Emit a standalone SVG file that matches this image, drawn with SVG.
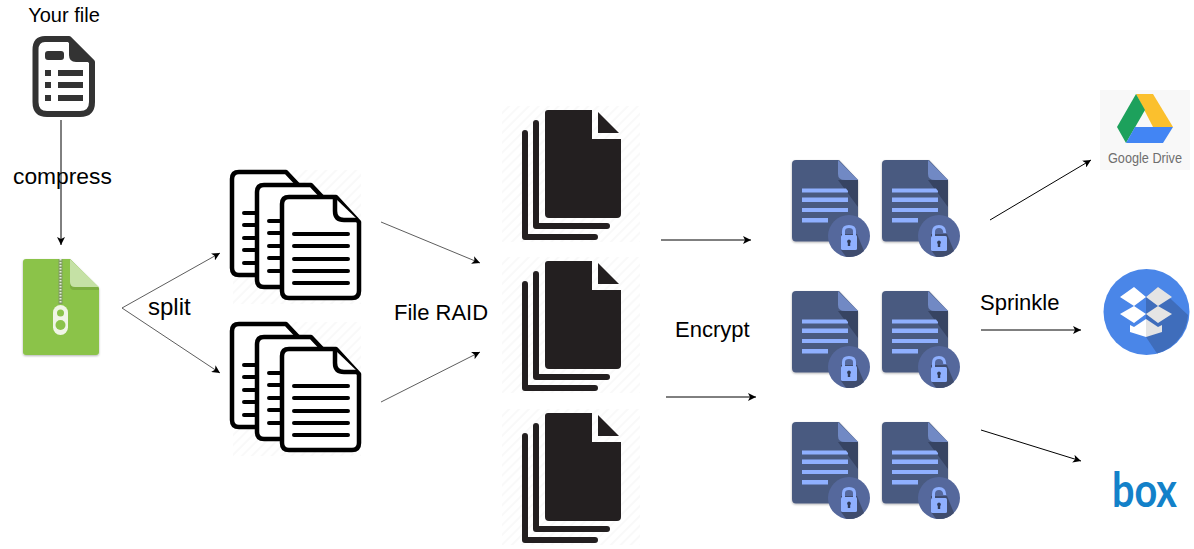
<svg xmlns="http://www.w3.org/2000/svg" width="1194" height="549" viewBox="0 0 1194 549">
<style>
text{font-family:"Liberation Sans",Arial,sans-serif;fill:#000}
.lbl{font-size:22px}
.c{stroke:#000;stroke-width:1;fill:none}
.c2{stroke:#333;stroke-width:.8;fill:none}
.ol{fill:#fff;stroke:#000;stroke-width:4.500;stroke-linejoin:round}
.ln{stroke:#000;stroke-width:4;stroke-linecap:round;fill:none}
.bk{stroke:#231f20;stroke-width:6;stroke-linecap:round;stroke-linejoin:round;fill:none}
</style>
<defs>
<marker id="a" markerWidth="10" markerHeight="8" refX="8" refY="4" orient="auto" markerUnits="userSpaceOnUse"><path d="M0 0L8 4L0 8L2 4Z" fill="#000"/></marker>
<pattern id="h" width="7" height="7" patternUnits="userSpaceOnUse" patternTransform="rotate(45)"><rect width="7" height="7" fill="#fff"/><rect width="2" height="7" fill="#f9f9f9"/></pattern>
<filter id="s" x="-10%" y="-10%" width="120%" height="120%"><feDropShadow dx="0" dy="1" stdDeviation="1" flood-color="#000" flood-opacity=".3"/></filter>
<g id="outline">
<rect x="233" y="170" width="128" height="134" fill="url(#h)"/>
<path class="ol" d="M239 172H286L303 190V275H239Q232 275 232 268V179Q232 172 239 172Z"/>
<path class="ln" d="M244 213H262M244 225H262M244 238H262M244 250H262M244 263H262"/>
<path class="ol" d="M264 185H311L328 203V287H264Q257 287 257 280V192Q257 185 264 185Z"/>
<path class="ln" d="M269 221H285M269 233H285M269 246H285M269 258H285M269 271H285"/>
<path class="ol" d="M289 197H336L359 222V291Q359 298 352 298H289Q282 298 282 291V204Q282 197 289 197Z"/>
<path class="ol" d="M335 198V211Q335 220 344 220H358" fill="none"/>
<path class="ln" d="M294 234H348M294 246H348M294 259H348M294 271H348M294 283H348"/>
</g>
<g id="stack">
<rect x="502" y="106" width="138" height="136" fill="url(#h)"/>
<path d="M548 110H592V139H621V214Q621 218 617 218H549Q545 218 545 214V113Q545 110 548 110Z" fill="#231f20"/>
<path d="M598 112L619 133H598Z" fill="#231f20"/>
<path class="bk" d="M536 123V226H607"/>
<path class="bk" d="M525 133V237H595"/>
</g>
<g id="lockdoc">
<path d="M796 160H839L858 180V238Q858 241.500 854 241.500H796Q792 241.500 792 237V164Q792 160 796 160Z" fill="#4a5a80" filter="url(#s)"/>
<path d="M838 160L858 180H845Q838 180 838 174Z" fill="#7189c4"/>
<path d="M838 180H858V207Z" fill="#374462"/>
<path d="M802 188.500H846L848 191V192.500H802ZM802 197.500H848V202H802ZM802 208H848V212H802ZM802 218H828V222.500H802Z" fill="#8fb0ff"/>
<circle cx="849" cy="236" r="21" fill="#55689c"/>
<path d="M841 234H857L864 251A21 21 0 0 1 846 256.800L841 250Z" fill="#3f4c6e"/>
</g>
<g id="closed">
<use href="#lockdoc"/>
<path d="M843.500 236V231Q843.500 226.500 849 226.500Q854.500 226.500 854.500 231V236" fill="none" stroke="#8fb0ff" stroke-width="3"/>
<rect x="841" y="235" width="16" height="15" rx="1.500" fill="#8fb0ff"/>
<path d="M849 239.500a2 2 0 0 1 1.200 3.500V246H847.800V243A2 2 0 0 1 849 239.500Z" fill="#2f3a58"/>
</g>
<g id="open">
<use href="#lockdoc"/>
<path d="M843.500 236V232Q843.500 226.500 849 226.500Q854.500 226.500 854.800 233" fill="none" stroke="#8fb0ff" stroke-width="3"/>
<rect x="841" y="236" width="16" height="15" rx="1.500" fill="#8fb0ff"/>
<path d="M849 240.500a2 2 0 0 1 1.200 3.500V247H847.800V244A2 2 0 0 1 849 240.500Z" fill="#2f3a58"/>
</g>
</defs>
<rect width="1194" height="549" fill="#fff"/>

<g id="connectors">
<path class="c" d="M61 120V245" marker-end="url(#a)"/>
<path class="c2" d="M122 308L220 253" marker-end="url(#a)"/>
<path class="c2" d="M122 308L220 373" marker-end="url(#a)"/>
<path class="c2" d="M381 222L480 263" marker-end="url(#a)"/>
<path class="c2" d="M381 402L480 352" marker-end="url(#a)"/>
<path class="c" d="M661 240H751" marker-end="url(#a)"/>
<path class="c" d="M666 397H756" marker-end="url(#a)"/>
<path class="c" d="M990 220L1091 160" marker-end="url(#a)"/>
<path class="c" d="M981 330H1081" marker-end="url(#a)"/>
<path class="c" d="M981 430L1081 461" marker-end="url(#a)"/>
</g>

<g id="your-file">
<path d="M45 39H69L92 62V102Q92 114 80 114H47Q35.500 114 35.500 102V50Q35.500 39 45 39Z" fill="none" stroke="#333" stroke-width="6" stroke-linejoin="round"/>
<path d="M69 38L93 62H76Q69 62 69 55Z" fill="#333"/>
<rect x="45" y="51" width="19" height="9" rx="3" fill="#333"/>
<path d="M45 70H51V76H45ZM45 82H51V88H45ZM45 95H51V101H45ZM58 70H83V76H58ZM58 82H83V88H58ZM58 95H83V101H58Z" fill="#333"/>
<text x="64" y="22" text-anchor="middle" font-size="20">Your file</text>
</g>
<text id="compress-label" x="13" y="184" style="font-size:22.800px">compress</text>

<g id="zip">
<path d="M26 259H70L99 288V352Q99 355 96 355H26Q23 355 23 352V262Q23 259 26 259Z" fill="#8bc34a" filter="url(#s)"/>
<path d="M70 259L99 288V290H74Q70 290 70 286Z" fill="#7cae3f"/>
<path d="M70 259L99 287H75Q70 287 70 282Z" fill="#c5e1a5"/>
<path d="M60.500 259V304" stroke="#7f9a62" stroke-width="4"/>
<path d="M60.500 259V304" stroke="#e6eadf" stroke-width="2" stroke-dasharray="1.500 1.500"/>
<rect x="53" y="305" width="15" height="30" rx="7.500" fill="#f0f5e6"/>
<circle cx="60.500" cy="313" r="3.500" fill="#8bc34a"/>
<circle cx="60.500" cy="325" r="5" fill="#8bc34a"/>
</g>

<g id="split-top"><use href="#outline"/></g>
<g id="split-bottom"><use href="#outline" y="152"/></g>
<text id="split-label" x="148" y="315" style="font-size:24px">split</text>

<text id="raid-label" class="lbl" x="394" y="320">File RAID</text>
<g id="raid-1"><use href="#stack"/></g>
<g id="raid-2"><use href="#stack" y="151"/></g>
<g id="raid-3"><use href="#stack" y="303"/></g>

<text id="encrypt-label" class="lbl" x="675" y="337">Encrypt</text>
<g id="enc-1"><use href="#closed"/></g>
<g id="enc-2"><use href="#open" x="90"/></g>
<g id="enc-3"><use href="#closed" y="131"/></g>
<g id="enc-4"><use href="#open" x="90" y="131"/></g>
<g id="enc-5"><use href="#closed" y="262"/></g>
<g id="enc-6"><use href="#open" x="90" y="262"/></g>

<text id="sprinkle-label" class="lbl" x="980" y="310">Sprinkle</text>

<g id="google-drive">
<rect x="1100" y="90" width="90" height="80" fill="#f8f8f8"/>
<path d="M1136 94H1153L1173 127H1153Z" fill="#fbc02d"/>
<path d="M1136 94L1145 110L1126 143L1117 127Z" fill="#1da15c"/>
<path d="M1135 127H1173L1163 143H1126Z" fill="#4285f4"/>
<text x="1108" y="163" font-size="14" textLength="74" lengthAdjust="spacingAndGlyphs" style="fill:#6e6e6e">Google Drive</text>
</g>

<g id="dropbox">
<circle cx="1146.500" cy="312" r="43" fill="#4a86e8"/>
<path d="M1146 297L1158 287L1188 315A43 43 0 0 1 1157 353.500L1146 337Z" fill="#3f6dbb"/>
<path d="M1120 297L1134 287L1146 297L1134 306ZM1120 314L1134 306L1146 314L1134 323Z" fill="#fff"/>
<path d="M1146 297L1158 287L1172 297L1158 306ZM1146 314L1158 306L1172 314L1158 323Z" fill="#e4e4e4"/>
<path d="M1130 325L1134 327L1146 319V337L1130 332Z" fill="#fff"/>
<path d="M1162 325L1158 327L1146 319V337L1162 332Z" fill="#e4e4e4"/>
</g>

<g id="box">
<text transform="translate(1112 507)" font-size="48" font-weight="700" textLength="65" lengthAdjust="spacingAndGlyphs" style="font-family:Lato,'Liberation Sans',sans-serif;fill:#1381c9">box</text>
</g>
</svg>
